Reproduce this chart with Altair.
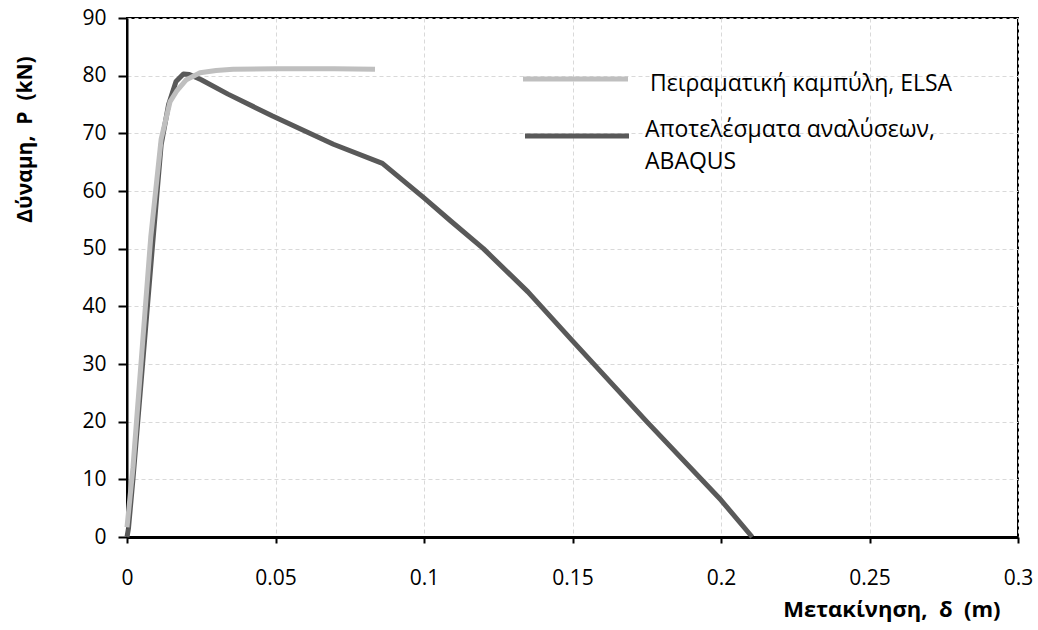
import altair as alt
import pandas as pd

# ABAQUS analysis results (displacement m, load kN)
abaqus_x = [0, 0.0005, 0.002, 0.0085, 0.0115, 0.014, 0.0165, 0.019, 0.021, 0.025,
            0.034, 0.049, 0.0695, 0.086, 0.1, 0.109, 0.12, 0.135, 0.15, 0.175, 0.2, 0.2105]
abaqus_y = [0, 1.5, 10, 50, 68, 75, 79, 80.3, 80.2, 79.3,
            76.8, 73.0, 68.1, 64.8, 58.8, 54.8, 50, 42.5, 34, 20, 6.4, 0]

# Experimental curve, ELSA
elsa_x = [0, 0.002, 0.008, 0.0115, 0.0145, 0.0167, 0.02, 0.0246, 0.03, 0.0357, 0.05, 0.07, 0.0835]
elsa_y = [1.7, 12, 52, 69, 75.5, 77.3, 79.3, 80.5, 80.9, 81.1, 81.2, 81.2, 81.1]

series_names = ["Πειραματική καμπύλη, ELSA", "Αποτελέσματα αναλύσεων,", "ABAQUS"]

x_ticks = [0, 0.05, 0.1, 0.15, 0.2, 0.25, 0.3]
y_ticks = [0, 10, 20, 30, 40, 50, 60, 70, 80, 90]

NB = "\u00a0"
x_title = "Μετακίνηση," + NB * 2 + "δ" + NB * 2 + "(m)"
y_title = "Δύναμη," + NB * 2 + "P" + NB * 2 + "(kN)"

FONT = "Open Sans"
DARK = "#595959"
LIGHT = "#bfbfbf"

df_a = pd.DataFrame({"x": abaqus_x, "y": abaqus_y, "i": range(len(abaqus_x))})
df_e = pd.DataFrame({"x": elsa_x, "y": elsa_y, "i": range(len(elsa_x))})

xs = alt.Scale(domain=[0, 0.3], nice=False, zero=False)
ys = alt.Scale(domain=[0, 90], nice=False, zero=False)

x_axis = alt.Axis(
    values=x_ticks, title=x_title, labelFont=FONT, labelFontSize=21,
    labelColor="#000", labelPadding=24, tickSize=6, tickColor="#000", tickWidth=2,
    domainColor="#000", domainWidth=3, grid=True, gridColor="#d9d9d9", gridDash=[4, 3],
    gridWidth=1, titleFont=FONT, titleFontSize=22, titleFontWeight="bold", titleColor="#000",
    titleAlign="right", titleX=873, titleY=72, titleBaseline="middle", labelFlush=False,
    labelExpr="datum.value == 0 ? '0' : format(datum.value, '.2~f')",
)
y_axis = alt.Axis(
    values=y_ticks, title=y_title, labelFont=FONT, labelFontSize=21,
    labelColor="#000", labelPadding=12, tickSize=9, tickColor="#000", tickWidth=2,
    domainColor="#000", domainWidth=2, grid=True, gridColor="#d9d9d9", gridDash=[4, 3],
    gridWidth=1, titleFont=FONT, titleFontSize=21, titleFontWeight="bold", titleColor="#000",
    titleAlign="center", titleX=-102, titleY=121, titleBaseline="middle", titleAngle=270,
    labelFlush=False,
)

line_a = alt.Chart(df_a).mark_line(color=DARK, strokeWidth=5, strokeJoin="round").encode(
    x=alt.X("x:Q", scale=xs, axis=x_axis),
    y=alt.Y("y:Q", scale=ys, axis=y_axis),
    order="i:Q",
)
line_e = alt.Chart(df_e).mark_line(color=LIGHT, strokeWidth=5, strokeJoin="round").encode(
    x=alt.X("x:Q", scale=xs),
    y=alt.Y("y:Q", scale=ys),
    order="i:Q",
)

leg = pd.DataFrame({"k": [0]})
rule_l = alt.Chart(leg).mark_rule(color=LIGHT, strokeWidth=5).encode(
    x=alt.value(396), x2=alt.value(501), y=alt.value(61))
rule_d = alt.Chart(leg).mark_rule(color=DARK, strokeWidth=5).encode(
    x=alt.value(398), x2=alt.value(502), y=alt.value(118))
txt_style = dict(font=FONT, fontSize=23, color="#000", align="left", baseline="alphabetic")
t1 = alt.Chart(leg).mark_text(text=series_names[0], **txt_style).encode(
    x=alt.value(523), y=alt.value(73))
t2 = alt.Chart(leg).mark_text(text=series_names[1], **txt_style).encode(
    x=alt.value(518), y=alt.value(119))
t3 = alt.Chart(leg).mark_text(text=series_names[2], **txt_style).encode(
    x=alt.value(518), y=alt.value(151))

chart = alt.layer(line_a, line_e, rule_l, rule_d, t1, t2, t3).properties(
    width=891, height=519,
    autosize=alt.AutoSizeParams(type="none"),
    padding={"left": 127, "top": 18, "right": 20, "bottom": 93},
    background="white",
).configure_view(stroke="#000", strokeWidth=2)

chart.save("out.html", embed_options={"renderer": "svg", "actions": False})
